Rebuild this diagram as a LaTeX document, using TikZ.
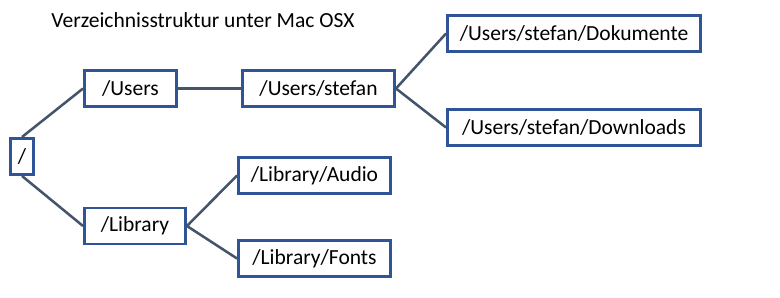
\documentclass[tikz,border=0pt]{standalone}
\usepackage{fontspec}
\setmainfont{Carlito}
\definecolor{boxblue}{HTML}{2F5597}
\definecolor{linegray}{HTML}{44546A}
\begin{document}
\begin{tikzpicture}[x=0.025cm,y=-0.025cm,
		dir/.style={draw=boxblue,line width=2.1pt,inner sep=0pt,minimum height=36*0.025cm,font=\fontsize{15.3}{18}\selectfont},
		branch/.style={draw=linegray,line width=1.8pt}]
		\useasboundingbox (0,0) rectangle (780,297);
		\node[font=\fontsize{15.3}{18}\selectfont] (title) at (203,20) {Verzeichnisstruktur unter Mac OSX};
		\node[dir,minimum width=23*0.025cm] (root) at (22,156.5) {/};
		\node[dir,minimum width=92*0.025cm] (users) at (130.5,88.5) {/Users};
		\node[dir,minimum width=152*0.025cm] (stefan) at (318.5,88.5) {/Users/stefan};
		\node[dir,minimum width=253*0.025cm] (docs) at (574,33.5) {/Users/stefan/Dokumente};
		\node[dir,minimum width=253*0.025cm] (downloads) at (574,127.5) {/Users/stefan/Downloads};
		\node[dir,minimum width=101*0.025cm] (library) at (135,226) {/Library};
		\node[dir,minimum width=152*0.025cm] (audio) at (314.5,175.5) {/Library/Audio};
		\node[dir,minimum width=152*0.025cm] (fonts) at (314.5,258.5) {/Library/Fonts};
		% verbindungen
		\draw[branch] (root.north) -- (users.west);
		\draw[branch] (root.south) -- (library.west);
		\draw[branch] (users.east) -- (stefan.west);
		\draw[branch] (stefan.east) -- (docs.west);
		\draw[branch] (stefan.east) -- (downloads.west);
		\draw[branch] (library.east) -- (audio.west);
		\draw[branch] (library.east) -- (fonts.west);
	\end{tikzpicture}
\end{document}
